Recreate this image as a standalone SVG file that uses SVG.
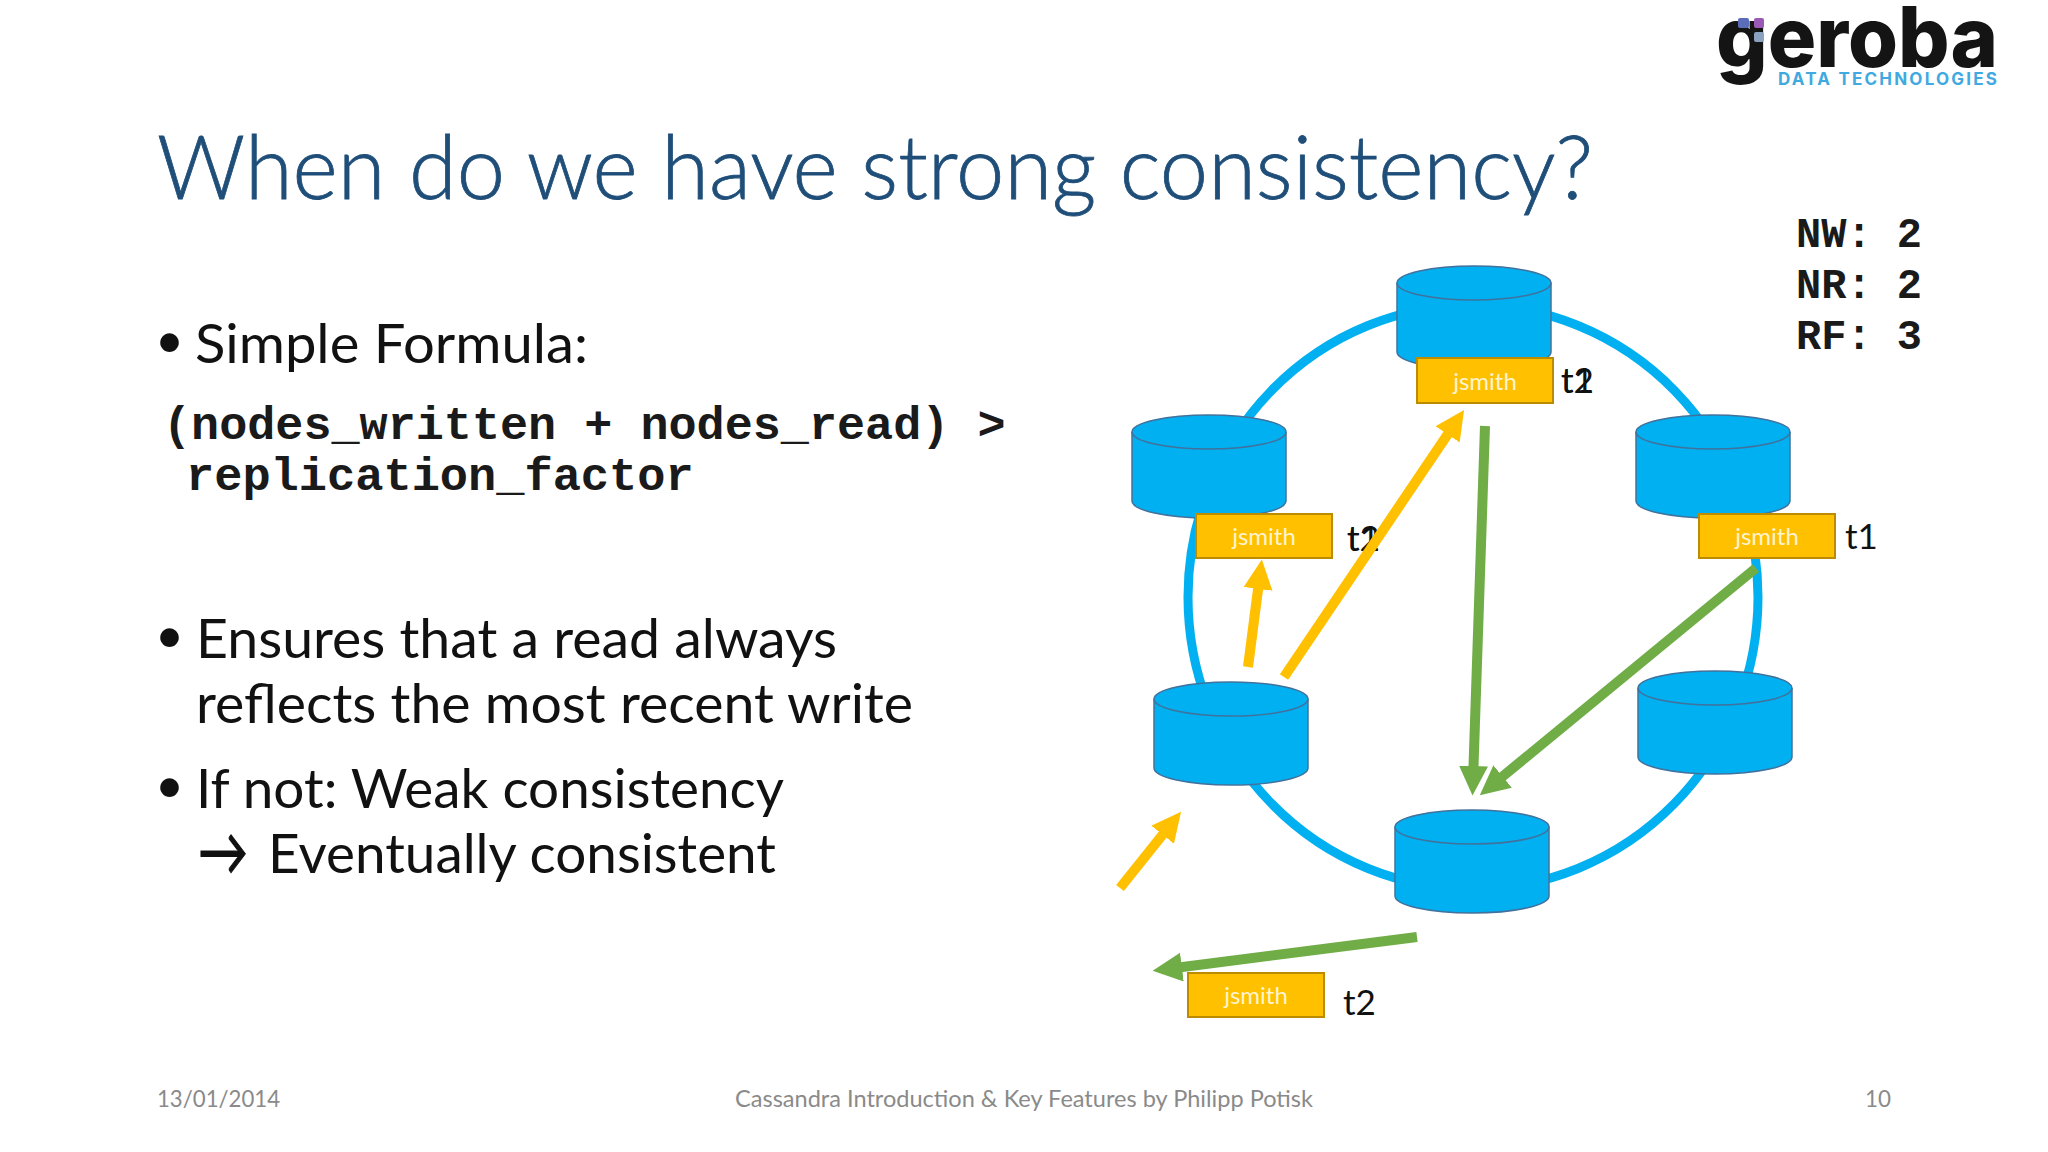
<svg xmlns="http://www.w3.org/2000/svg" width="2048" height="1152" viewBox="0 0 2048 1152">
<style>
.t{font-family:Lato,"Open Sans",sans-serif}
.body{font-family:Lato,"Open Sans",sans-serif;font-size:55px;fill:#111}
.bul{font-family:Lato,"Open Sans",sans-serif;font-size:50px;fill:#111}
.mono{font-family:"Liberation Mono",monospace;font-weight:700;fill:#1a1a1a}
.foot{font-family:Lato,"Open Sans",sans-serif;font-size:24px;fill:#8a8a8a}
.cb{fill:#00b0f0;stroke:#41719c;stroke-width:1.5}
.ce{fill:none;stroke:#41719c;stroke-width:1.5}
.tag rect{fill:#ffc000;stroke:#bc8c00;stroke-width:2}
.tag text{font-family:Lato,"Open Sans",sans-serif;font-size:24px;fill:#fff4d0;text-anchor:middle}
.tm{font-family:Lato,"Open Sans",sans-serif;font-size:35px;fill:#111}
.y{stroke:#ffc000;stroke-width:10;fill:none;marker-end:url(#ya)}
.g{stroke:#70ad47;stroke-width:10;fill:none;marker-end:url(#ga)}
</style>
<defs>
<marker id="ya" markerWidth="3" markerHeight="3" refX="1.5" refY="1.45" orient="auto"><path d="M0,0L2.95,1.45L0,2.9Z" fill="#ffc000"/></marker>
<marker id="ga" markerWidth="3" markerHeight="3" refX="1.5" refY="1.45" orient="auto"><path d="M0,0L2.95,1.45L0,2.9Z" fill="#70ad47"/></marker>
<g id="c"><path class="cb" d="M0,17A77,17 0 0 1 154,17V86A77,17 0 0 1 0,86Z"/><path class="ce" d="M0,17A77,17 0 0 0 154,17"/></g>
</defs>
<rect width="2048" height="1152" fill="#fff"/>
<g id="logo">
<text x="1716" y="67" font-family="Inter,sans-serif" font-size="84" font-weight="800" fill="#141414" textLength="282" lengthAdjust="spacingAndGlyphs">geroba</text>
<rect x="1738" y="18" width="11" height="10" rx="2" fill="#5b6db8"/>
<rect x="1754" y="18" width="10" height="10" rx="2" fill="#9b59b6"/>
<rect x="1754" y="32" width="10" height="10" rx="2" fill="#8aa2bf"/>
<text x="1778" y="85" font-family="Inter,sans-serif" font-weight="700" font-size="17" fill="#3fa9e0" textLength="219" lengthAdjust="spacing">DATA TECHNOLOGIES</text>
</g>
<text id="title" x="157" y="199" class="t" font-size="88" font-weight="300" fill="#1f4e79" stroke="#1f4e79" stroke-width="0.8" textLength="1436" lengthAdjust="spacingAndGlyphs">When do we have strong consistency?</text>
<g id="bullets">
<text x="155" y="358" class="bul">•</text>
<text x="195" y="363" class="body" textLength="393" lengthAdjust="spacingAndGlyphs">Simple Formula:</text>
<text x="163" y="439" class="mono" font-size="46.8">(nodes_written + nodes_read) &gt;</text>
<text x="186" y="490" class="mono" font-size="47">replication_factor</text>
<text x="155" y="653" class="bul">•</text>
<text x="196" y="658" class="body" textLength="641" lengthAdjust="spacingAndGlyphs">Ensures that a read always</text>
<text x="196" y="723" class="body" textLength="717" lengthAdjust="spacingAndGlyphs">reflects the most recent write</text>
<text x="155" y="803" class="bul">•</text>
<text x="196" y="808" class="body" textLength="588" lengthAdjust="spacingAndGlyphs">If not: Weak consistency</text>
<text x="198" y="875" style="font-family:Lato,sans-serif;font-size:66px;fill:#111;stroke:#111;stroke-width:1.2" textLength="50" lengthAdjust="spacingAndGlyphs">→</text>
<text x="268" y="873" class="body" textLength="508" lengthAdjust="spacingAndGlyphs">Eventually consistent</text>
</g>
<g id="params">
<text x="1796" y="247" class="mono" font-size="42">NW: 2</text>
<text x="1796" y="298" class="mono" font-size="42">NR: 2</text>
<text x="1796" y="349" class="mono" font-size="42">RF: 3</text>
</g>
<ellipse id="ring" cx="1473" cy="597" rx="285" ry="292" fill="none" stroke="#00b0f0" stroke-width="9"/>
<g id="node-top"><use href="#c" x="1397" y="266"/></g>
<g id="node-left-upper"><use href="#c" x="1132" y="415"/></g>
<g id="node-right-upper"><use href="#c" x="1636" y="415"/></g>
<g id="node-left-lower"><use href="#c" x="1154" y="682"/></g>
<g id="node-right-lower"><use href="#c" x="1638" y="671"/></g>
<g id="node-bottom"><use href="#c" x="1395" y="810"/></g>
<g id="tag-top" class="tag"><rect x="1417" y="358" width="136" height="45"/><text x="1485" y="390">jsmith</text></g>
<g id="tag-left" class="tag"><rect x="1196" y="514" width="136" height="44"/><text x="1264" y="545">jsmith</text></g>
<g id="tag-right" class="tag"><rect x="1699" y="514" width="136" height="44"/><text x="1767" y="545">jsmith</text></g>
<g id="tag-client" class="tag"><rect x="1188" y="973" width="136" height="44"/><text x="1256" y="1004">jsmith</text></g>
<g id="times">
<text x="1561" y="393" class="tm">t1</text><text x="1561" y="393" class="tm">t2</text>
<text x="1347" y="551" class="tm">t1</text><text x="1347" y="551" class="tm">t2</text>
<text x="1845" y="549" class="tm">t1</text>
<text x="1343" y="1015" class="tm">t2</text>
</g>
<g id="connectors">
<line class="y" x1="1248" y1="667" x2="1260" y2="574"/>
<line class="y" x1="1284" y1="677" x2="1456" y2="422"/>
<line class="y" x1="1120" y1="888" x2="1172" y2="823"/>
<line class="g" x1="1485" y1="426" x2="1473" y2="781"/>
<line class="g" x1="1756" y1="568" x2="1491" y2="786"/>
<line class="g" x1="1417" y1="937" x2="1167" y2="969"/>
</g>
<g id="footer">
<text x="157" y="1107" class="foot" textLength="123" lengthAdjust="spacingAndGlyphs">13/01/2014</text>
<text x="735" y="1107" class="foot" textLength="578" lengthAdjust="spacingAndGlyphs">Cassandra Introduction &amp; Key Features by Philipp Potisk</text>
<text x="1865" y="1107" class="foot" textLength="26" lengthAdjust="spacingAndGlyphs">10</text>
</g>
</svg>
